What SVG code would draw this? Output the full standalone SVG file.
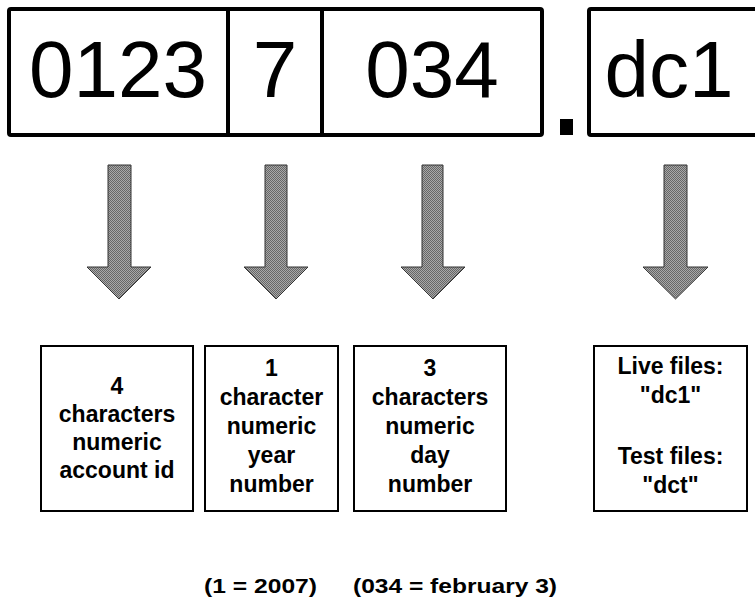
<svg xmlns="http://www.w3.org/2000/svg" width="755" height="601" viewBox="0 0 755 601">
<style>
.big{font-family:"Liberation Sans",Arial,sans-serif;font-size:80px;fill:#000;text-anchor:middle}
.lbl{font-family:"Liberation Sans",Arial,sans-serif;font-size:23px;font-weight:bold;fill:#000;text-anchor:middle}
.note{font-family:"Liberation Sans",Arial,sans-serif;font-size:20px;font-weight:bold;fill:#000}
.frame{fill:#fff;stroke:#000;stroke-width:4;stroke-linejoin:round}
.box{fill:#fff;stroke:#000;stroke-width:2}
.arrow{fill:url(#chk);stroke:#333;stroke-width:1}
</style>
<defs>
<pattern id="chk" width="2" height="2" patternUnits="userSpaceOnUse">
<rect width="2" height="2" fill="#a8a8a8"/>
<rect width="1" height="1" fill="#666"/>
<rect x="1" y="1" width="1" height="1" fill="#666"/>
</pattern>
</defs>
<rect width="755" height="601" fill="#fff"/>
<g id="name-frame">
<rect class="frame" x="9" y="9" width="533" height="126" rx="2"/>
<line x1="228" y1="9" x2="228" y2="135" stroke="#000" stroke-width="4"/>
<line x1="322" y1="9" x2="322" y2="135" stroke="#000" stroke-width="4"/>
<text class="big" x="118" y="97">0123</text>
<text class="big" x="275" y="97">7</text>
<text class="big" x="432" y="97">034</text>
</g>
<g id="dot"><rect x="560" y="119" width="13" height="16" fill="#000"/></g>
<g id="ext-frame">
<rect class="frame" x="589" y="9" width="190" height="126" rx="2"/>
<text class="big" x="669" y="97">dc1</text>
</g>
<g id="connectors">
<polygon class="arrow" points="108,165 131,165 131,267 151,267 119,299 87,267 108,267"/>
<polygon class="arrow" points="265,165 287,165 287,267 308,267 276,299 244,267 265,267"/>
<polygon class="arrow" points="422,165 443,165 443,267 465,267 433,299 401,267 422,267"/>
<polygon class="arrow" points="664,165 687,165 687,267 708,267 675.5,299 643,267 664,267"/>
</g>
<g id="box-account">
<rect class="box" x="41" y="346" width="152" height="165"/>
<text class="lbl" x="117" y="394">4</text>
<text class="lbl" x="117" y="422">characters</text>
<text class="lbl" x="117" y="450">numeric</text>
<text class="lbl" x="117" y="478">account id</text>
</g>
<g id="box-year">
<rect class="box" x="205" y="346" width="133" height="165"/>
<text class="lbl" x="271.5" y="376">1</text>
<text class="lbl" x="271.5" y="405">character</text>
<text class="lbl" x="271.5" y="434">numeric</text>
<text class="lbl" x="271.5" y="463">year</text>
<text class="lbl" x="271.5" y="492">number</text>
</g>
<g id="box-day">
<rect class="box" x="354" y="346" width="152" height="165"/>
<text class="lbl" x="430" y="376">3</text>
<text class="lbl" x="430" y="405">characters</text>
<text class="lbl" x="430" y="434">numeric</text>
<text class="lbl" x="430" y="463">day</text>
<text class="lbl" x="430" y="492">number</text>
</g>
<g id="box-ext">
<rect class="box" x="594" y="346" width="153" height="165"/>
<text class="lbl" x="670.5" y="374">Live files:</text>
<text class="lbl" x="670.5" y="403">"dc1"</text>
<text class="lbl" x="670.5" y="464">Test files:</text>
<text class="lbl" x="670.5" y="493">"dct"</text>
</g>
<g id="notes">
<text class="note" x="204" y="593" textLength="113" lengthAdjust="spacingAndGlyphs">(1 = 2007)</text>
<text class="note" x="353" y="593" textLength="204" lengthAdjust="spacingAndGlyphs">(034 = february 3)</text>
</g>
</svg>
